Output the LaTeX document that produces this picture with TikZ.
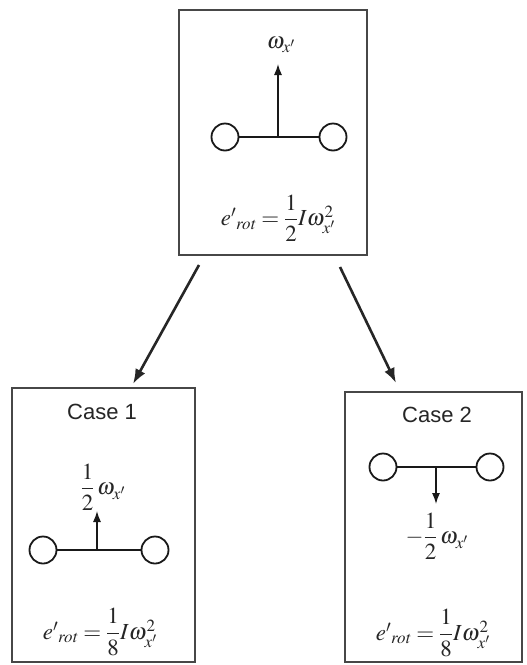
\documentclass[tikz,border=0pt]{standalone}
\usepackage{amsmath}
\usepackage{mathptmx}
\usepackage{fontspec}
\setmainfont{Liberation Sans}
\usetikzlibrary{arrows.meta}
\tikzset{
  box/.style={draw=black!72, line width=1.3pt, fill=none, inner sep=0pt},
  mass/.style={circle, draw=black!90, line width=1.8pt, minimum size=27pt, inner sep=0pt, fill=white},
  rod/.style={line width=2.7pt, draw=black!90},
  spin/.style={line width=1.3pt, draw=black!90, -{Latex[length=11pt,width=8pt]}},
  conn/.style={line width=2.6pt, draw=black!85, -{Latex[length=15pt,width=11pt]}},
  eq/.style={font=\fontsize{23}{27}\selectfont, inner sep=0pt, text=black!85},
  casetxt/.style={font=\fontsize{22}{26}\selectfont, inner sep=0pt, text=black!85}
}
\begin{document}
\begin{tikzpicture}[x=1pt,y=-1pt]
\useasboundingbox[fill=white] (0,0) rectangle (527,665);
% boxes
\node[box, minimum width=188pt, minimum height=245pt] (top) at (273,132.5) {};
\node[box, minimum width=183pt, minimum height=274pt] (left) at (103.5,525) {};
\node[box, minimum width=177pt, minimum height=270pt] (right) at (433.5,527) {};
% top dumbbell
\node[mass] (t1) at (225,137) {};
\node[mass] (t2) at (333,137) {};
\draw[rod] (t1) -- (t2);
\coordinate (tc) at (278,137);
\coordinate (tt) at (278,64);
\draw[spin] (tc) -- (tt);
\node[eq] (tw) at (281,45) {$\omega_{x'}$};
\node[eq] (tf) at (278,218) {$e'{}_{\mathit{rot}} = \dfrac{1}{2} I\omega_{x'}^{2}$};
% case 1
\node[casetxt] (c1) at (102,412) {Case 1};
\node[mass] (l1) at (43,550) {};
\node[mass] (l2) at (155,550) {};
\draw[rod] (l1) -- (l2);
\coordinate (lc) at (97,550);
\coordinate (lt) at (97,511);
\draw[spin] (lc) -- (lt);
\node[eq] (lw) at (103,487) {$\dfrac{1}{2}\,\omega_{x'}$};
\node[eq] (lf) at (100,632) {$e'{}_{\mathit{rot}} = \dfrac{1}{8} I\omega_{x'}^{2}$};
% case 2
\node[casetxt] (c2) at (437,415) {Case 2};
\node[mass] (r1) at (383,467) {};
\node[mass] (r2) at (490,467) {};
\draw[rod] (r1) -- (r2);
\coordinate (rc) at (436,467);
\coordinate (rt) at (436,504);
\draw[spin] (rc) -- (rt);
\node[eq] (rw) at (437,536) {$-\dfrac{1}{2}\,\omega_{x'}$};
\node[eq] (rf) at (433,633) {$e'{}_{\mathit{rot}} = \dfrac{1}{8} I\omega_{x'}^{2}$};
% connectors
\coordinate (s1) at (199,265);
\coordinate (e1) at (133,384);
\coordinate (s2) at (340,267);
\coordinate (e2) at (396,383);
\draw[conn] (s1) -- (e1);
\draw[conn] (s2) -- (e2);
\end{tikzpicture}
\end{document}
